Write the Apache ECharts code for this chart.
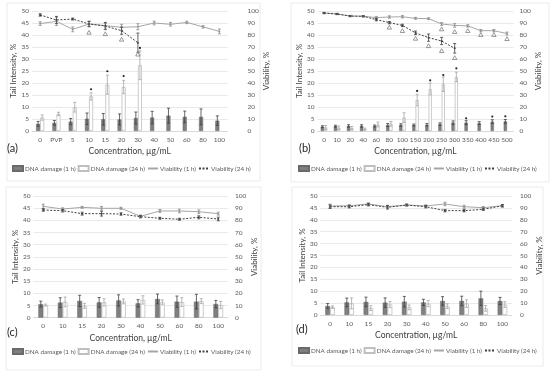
<!DOCTYPE html>
<html><head><meta charset="utf-8">
<script src="https://cdn.jsdelivr.net/npm/echarts@6/dist/echarts.min.js"></script>
<style>html,body{margin:0;padding:0;background:#fff}#c{width:550px;height:375px}</style>
</head><body><div id="c"></div><script>
// ---------- Panel (a) ----------
const catsA = ['0','PVP','5','10','15','20','30','40','50','60','80','100'];
const dna1hA = [3.0, 3.4, 3.9, 5.1, 4.9, 4.8, 5.4, 5.6, 6.4, 5.9, 5.9, 4.3];
const dna1hErrA = [1.0, 1.0, 1.3, 2.4, 2.4, 2.3, 2.5, 2.6, 3.1, 2.4, 3.3, 2.0];
const dna24hA = [5.6, 7.1, 9.9, 14.4, 19.3, 18.3, 27.4, null, null, null, null, null];
const dna24hErrA = [1.1, 0.7, 2.0, 1.5, 4.0, 2.8, 6.0, null, null, null, null, null];
const via1hA = [89.5, 91.4, 84.7, 89.2, 87.8, 86.4, 86.9, 90.0, 88.9, 90.5, 86.8, 83.0];
const via1hErrA = [1.5, 3.5, 2.0, 2.5, 2.0, 2.5, 2.5, 1.5, 1.5, 1.0, 1.0, 2.0];
const via24hA = [96.7, 92.5, 93.3, 89.2, 87.5, 83.6, 73.6, null, null, null, null, null];
const via24hErrA = [1.0, 3.0, 0.8, 2.0, 3.0, 3.0, 8.0, null, null, null, null, null];
const star24hA = [[3, 17.4], [4, 24.9], [5, 22.9], [6, 34.6]];
const star1hA = [];
const triA = [[3, 82.2], [4, 81.0], [5, 76.4], [6, 64.0]];

// ---------- Panel (b) ----------
const catsB = ['0','10','20','40','60','80','100','150','200','250','300','350','400','450','500'];
const dna1hB = [1.8, 2.0, 2.1, 2.1, 2.1, 2.5, 2.5, 2.5, 2.6, 2.9, 3.5, 3.5, 3.3, 3.9, 4.0];
const dna1hErrB = [0.4, 0.4, 0.5, 0.5, 0.4, 0.6, 0.5, 0.4, 0.5, 0.5, 0.7, 0.8, 0.6, 0.8, 0.8];
const dna24hB = [1.5, 1.4, 1.3, 0.8, 2.7, 3.0, 5.6, 12.9, 17.5, 19.5, 22.5, null, null, null, null];
const dna24hErrB = [0.8, 0.7, 0.6, 0.4, 1.0, 1.0, 2.0, 2.4, 2.5, 3.0, 2.0, null, null, null, null];
const via1hB = [98.3, 97.5, 95.8, 95.6, 94.5, 95.0, 95.2, 93.9, 93.6, 89.2, 88.0, 87.6, 83.6, 83.6, 81.2];
const via1hErrB = [0.5, 0.5, 0.5, 0.5, 1.0, 1.0, 1.0, 0.8, 0.8, 1.2, 1.5, 1.0, 1.0, 1.0, 1.2];
const via24hB = [98.3, 97.5, 95.8, 95.6, 92.8, 90.3, 88.0, 81.8, 77.8, 75.0, 68.9, null, null, null, null];
const via24hErrB = [0.5, 0.5, 0.5, 0.5, 1.0, 1.0, 1.0, 1.5, 3.0, 3.0, 4.0, null, null, null, null];
const star24hB = [[7, 16.7], [8, 21.1], [9, 23.3], [10, 26.1]];
const star1hB = [[11, 5.3], [13, 6.0], [14, 6.1]];
const triB = [[5, 86.4], [6, 83.6], [7, 77.2], [8, 71.0], [9, 66.9], [10, 61.1],
              [9, 85.0], [10, 82.8], [11, 83.6], [12, 80.3], [13, 80.3], [14, 76.9]];

// ---------- Panel (c) ----------
const catsC = ['0','10','15','20','30','40','50','60','80','100'];
const dna1hC = [5.6, 6.2, 6.9, 6.3, 7.1, 5.9, 7.7, 6.6, 6.6, 5.6];
const dna1hErrC = [1.2, 2.0, 2.3, 2.0, 2.3, 1.5, 2.0, 2.3, 3.0, 1.5];
const dna24hC = [5.2, 6.5, 4.9, 6.3, 6.7, 7.3, 6.3, 6.4, 6.8, 5.2];
const dna24hErrC = [0.4, 2.0, 1.0, 1.5, 1.0, 1.7, 1.0, 1.8, 1.0, 1.5];
const via1hC = [91.5, 89.3, 90.7, 89.9, 89.9, 83.3, 87.7, 87.7, 87.1, 85.5];
const via1hErrC = [1.8, 1.0, 0.8, 1.5, 0.8, 1.0, 1.2, 1.5, 1.5, 1.2];
const via24hC = [88.5, 87.9, 85.5, 85.5, 85.2, 83.0, 81.7, 80.9, 82.5, 81.1];
const via24hErrC = [1.0, 1.0, 1.2, 2.0, 1.0, 1.0, 0.8, 0.8, 1.2, 1.5];

// ---------- Panel (d) ----------
const catsD = ['0','10','15','20','30','40','50','60','80','100'];
const dna1hD = [3.8, 5.3, 5.5, 5.2, 5.6, 5.3, 5.9, 5.9, 7.0, 5.9];
const dna1hErrD = [1.0, 1.8, 2.0, 2.0, 2.2, 1.3, 1.8, 2.0, 3.0, 1.5];
const dna24hD = [3.3, 4.9, 2.9, 4.4, 3.2, 4.8, 3.7, 4.8, 2.8, 4.4];
const dna24hErrD = [0.5, 2.3, 1.0, 1.3, 1.0, 1.3, 1.0, 1.6, 1.2, 1.2];
const via1hD = [91.6, 91.8, 93.3, 91.0, 92.4, 91.6, 93.3, 91.0, 90.2, 91.8];
const via1hErrD = [1.5, 1.0, 1.0, 1.2, 0.8, 1.0, 1.5, 1.2, 1.0, 1.0];
const via24hD = [91.0, 91.0, 92.7, 90.5, 92.4, 91.0, 87.7, 87.7, 88.8, 91.8];
const via24hErrD = [1.5, 1.0, 1.0, 1.5, 0.8, 1.0, 1.0, 1.0, 1.0, 1.0];

const leftTicks = {min: 0, max: 50, interval: 5};
const rightTicks = {min: 0, max: 100, interval: 10};
const panelLetters = ['(a)', '(b)', '(c)', '(d)'];
const xTitle = 'Concentration, µg/mL';
const yLeftTitle = 'Tail Intensity, %';
const yRightTitle = 'Viability, %';
const names = ['DNA damage (1 h)', 'DNA damage (24 h)', 'Viability (1 h)', 'Viability (24 h)'];

const FONT = 'Lato, "Liberation Sans", sans-serif';
const TXT = '#595959';

const panels = [
  {cats: catsA, d1: dna1hA, d1e: dna1hErrA, d24: dna24hA, d24e: dna24hErrA, v1: via1hA, v1e: via1hErrA, v24: via24hA, v24e: via24hErrA, s1: star1hA, s24: star24hA, tri: triA,
   grid: {left: 32, top: 11, width: 195.5, height: 120}, lm: 3, rm: 20, lg: 10.5, rg: 9, box: [7, 3, 253, 178], letter: [7, 143], legend: [12, 165]},
  {cats: catsB, d1: dna1hB, d1e: dna1hErrB, d24: dna24hB, d24e: dna24hErrB, v1: via1hB, v1e: via1hErrB, v24: via24hB, v24e: via24hErrB, s1: star1hB, s24: star24hB, tri: triB,
   grid: {left: 317.5, top: 11, width: 196, height: 120}, lm: 3, rm: 6, lg: 11.5, rg: 9, box: [291, 3, 258, 179], letter: [299, 143], legend: [298, 165]},
  {cats: catsC, d1: dna1hC, d1e: dna1hErrC, d24: dna24hC, d24e: dna24hErrC, v1: via1hC, v1e: via1hErrC, v24: via24hC, v24e: via24hErrC, s1: [], s24: [], tri: [],
   grid: {left: 33.5, top: 196, width: 194.5, height: 121.7}, lm: 3, rm: 7, lg: 12, rg: 9, box: [6, 187, 255, 183], letter: [7, 327], legend: [12, 348]},
  {cats: catsD, d1: dna1hD, d1e: dna1hErrD, d24: dna24hD, d24e: dna24hErrD, v1: via1hD, v1e: via1hErrD, v24: via24hD, v24e: via24hErrD, s1: [], s24: [], tri: [],
   grid: {left: 320.5, top: 196, width: 191.5, height: 119}, lm: 3, rm: 8, lg: 12.5, rg: 9, box: [292, 187, 251, 179], letter: [296, 324], legend: [298, 347]}
];

function errSeries(xi, yi, vals, errs, frac, color) {
  const data = [];
  vals.forEach((v, i) => { if (v != null && errs[i] != null) data.push([i, v, errs[i]]); });
  return {
    type: 'custom', xAxisIndex: xi, yAxisIndex: yi, silent: true, z: 6, data,
    renderItem(params, api) {
      const i = api.value(0), v = api.value(1), e = api.value(2);
      const band = api.size([1, 0])[0];
      const t = api.coord([i, v + e]), b = api.coord([i, Math.max(0, v - e)]);
      const x = t[0] + band * frac;
      const cw = 1.5;
      const style = {stroke: color, lineWidth: 0.8, fill: null};
      return {type: 'group', children: [
        {type: 'line', shape: {x1: x, y1: t[1], x2: x, y2: b[1]}, style},
        {type: 'line', shape: {x1: x - cw, y1: t[1], x2: x + cw, y2: t[1]}, style},
        {type: 'line', shape: {x1: x - cw, y1: b[1], x2: x + cw, y2: b[1]}, style}
      ]};
    }
  };
}
function starSeries(xi, yi, pts, frac) {
  return {
    type: 'custom', xAxisIndex: xi, yAxisIndex: yi, silent: true, z: 7, data: pts,
    renderItem(params, api) {
      const band = api.size([1, 0])[0];
      const p = api.coord([api.value(0), api.value(1)]);
      return {type: 'circle', shape: {cx: p[0] + band * frac, cy: p[1], r: 1.1}, style: {fill: '#262626'}};
    }
  };
}
function triSeries(xi, yi, pts) {
  return {
    type: 'custom', xAxisIndex: xi, yAxisIndex: yi, silent: true, z: 7, data: pts,
    renderItem(params, api) {
      const p = api.coord([api.value(0), api.value(1)]);
      return {type: 'polygon', shape: {points: [[p[0], p[1] - 2], [p[0] - 2.2, p[1] + 1.8], [p[0] + 2.2, p[1] + 1.8]]},
        style: {fill: null, stroke: '#7f7f7f', lineWidth: 0.8}};
    }
  };
}

const option = {
  animation: false,
  textStyle: {fontFamily: FONT},
  grid: [], xAxis: [], yAxis: [], series: [], legend: [], title: [], graphic: []
};

panels.forEach((p, k) => {
  option.grid.push(Object.assign({containLabel: false}, p.grid));
  option.xAxis.push({
    type: 'category', gridIndex: k, data: p.cats,
    axisLine: {lineStyle: {color: '#d9d9d9', width: 1}}, axisTick: {show: false},
    axisLabel: {interval: 0, fontSize: 6.5, color: TXT, margin: 5, fontFamily: FONT},
    name: xTitle, nameLocation: 'middle', nameGap: 16,
    nameTextStyle: {fontSize: 8.5, color: '#404040', fontFamily: FONT}
  });
  const yi = 2 * k;
  option.yAxis.push({
    type: 'value', gridIndex: k, position: 'left', ...leftTicks,
    axisLine: {show: false}, axisTick: {show: false},
    splitLine: {lineStyle: {color: '#e3e3e3', width: 0.8}},
    axisLabel: {fontSize: 6.5, color: TXT, margin: p.lm, fontFamily: FONT},
    name: yLeftTitle, nameLocation: 'middle', nameGap: p.lg, nameRotate: 90,
    nameTextStyle: {fontSize: 8, color: '#404040', fontFamily: FONT}
  });
  option.yAxis.push({
    type: 'value', gridIndex: k, position: 'right', ...rightTicks,
    axisLine: {show: false}, axisTick: {show: false}, splitLine: {show: false},
    axisLabel: {fontSize: 6.5, color: TXT, margin: p.rm, align: 'left', fontFamily: FONT},
    name: yRightTitle, nameLocation: 'middle', nameGap: p.rg, nameRotate: 90,
    nameTextStyle: {fontSize: 8, color: '#404040', fontFamily: FONT}
  });
  option.series.push({
    name: names[0], type: 'bar', xAxisIndex: k, yAxisIndex: yi, data: p.d1,
    barWidth: '25%', barGap: '0%',
    itemStyle: {color: '#7f7f7f', borderColor: '#6a6a6a', borderWidth: 0.5}
  });
  option.series.push({
    name: names[1], type: 'bar', xAxisIndex: k, yAxisIndex: yi, data: p.d24,
    barWidth: '25%', barGap: '0%',
    itemStyle: {color: '#ffffff', borderColor: '#bfbfbf', borderWidth: 0.8}
  });
  option.series.push({
    name: names[2], type: 'line', xAxisIndex: k, yAxisIndex: yi + 1, data: p.v1,
    symbol: 'circle', symbolSize: 2, z: 4,
    lineStyle: {color: '#a6a6a6', width: 1}, itemStyle: {color: '#a6a6a6'}
  });
  option.series.push({
    name: names[3], type: 'line', xAxisIndex: k, yAxisIndex: yi + 1, data: p.v24,
    symbol: 'circle', symbolSize: 2, z: 4, connectNulls: false,
    lineStyle: {color: '#404040', width: 1, type: [2, 1.5]}, itemStyle: {color: '#404040'}
  });
  option.series.push(errSeries(k, yi, p.d1, p.d1e, -0.125, '#404040'));
  option.series.push(errSeries(k, yi, p.d24, p.d24e, 0.125, '#a6a6a6'));
  option.series.push(errSeries(k, yi + 1, p.v1, p.v1e, 0, '#8c8c8c'));
  option.series.push(errSeries(k, yi + 1, p.v24, p.v24e, 0, '#404040'));
  if (p.s1.length) option.series.push(starSeries(k, yi, p.s1, -0.125));
  if (p.s24.length) option.series.push(starSeries(k, yi, p.s24, 0.125));
  if (p.tri.length) option.series.push(triSeries(k, yi + 1, p.tri));
  option.legend.push({
    left: p.legend[0], top: p.legend[1], width: 300, itemWidth: 10, itemHeight: 5, itemGap: 2,
    padding: 0, selectedMode: false,
    textStyle: {fontSize: 6.3, color: TXT, fontFamily: FONT, padding: [0, 0, 0, -3]},
    data: [
      {name: names[0], icon: 'rect'},
      {name: names[1], icon: 'rect'},
      {name: names[2], itemStyle: {opacity: 0}},
      {name: names[3], itemStyle: {opacity: 0}}
    ]
  });
  option.title.push({
    text: panelLetters[k], left: p.letter[0], top: p.letter[1], padding: 0,
    textStyle: {fontSize: 11, fontWeight: 'normal', color: '#262626', fontFamily: FONT}
  });
  option.graphic.push({
    type: 'rect', silent: true, z: -10,
    shape: {x: p.box[0], y: p.box[1], width: p.box[2], height: p.box[3]},
    style: {fill: null, stroke: '#ebebeb', lineWidth: 1}
  });
});

const chart = echarts.init(document.getElementById('c'), null, {renderer: 'canvas'});
chart.setOption(option);
</script></body></html>
